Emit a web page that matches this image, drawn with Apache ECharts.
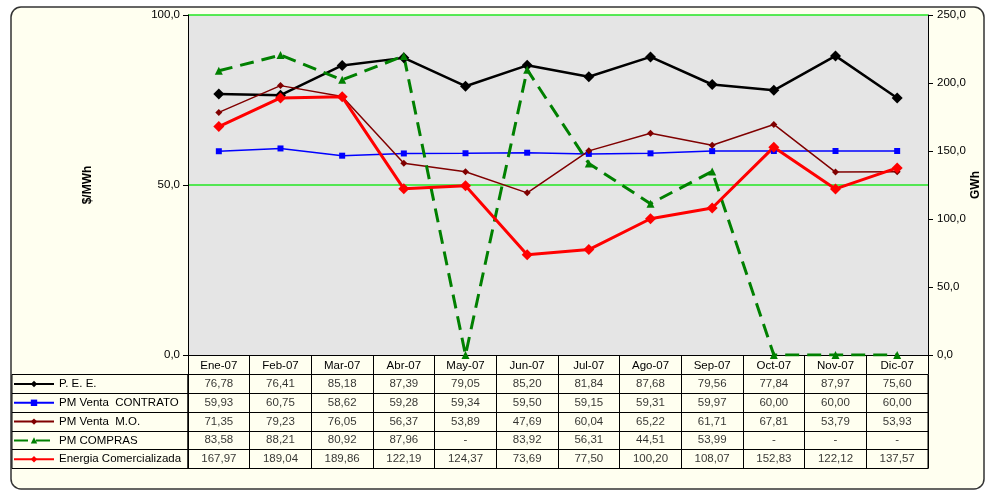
<!DOCTYPE html>
<html>
<head>
<meta charset="utf-8">
<script src="https://cdn.jsdelivr.net/npm/echarts@6/dist/echarts.min.js"></script>
<style>
  html, body { margin: 0; padding: 0; background: #ffffff; }
  #chart { width: 985px; height: 491px; }
</style>
</head>
<body>
<div id="chart"></div>
<script>
var months = ['Ene-07', 'Feb-07', 'Mar-07', 'Abr-07', 'May-07', 'Jun-07', 'Jul-07', 'Ago-07', 'Sep-07', 'Oct-07', 'Nov-07', 'Dic-07'];
var pee = [76.78, 76.41, 85.18, 87.39, 79.05, 85.20, 81.84, 87.68, 79.56, 77.84, 87.97, 75.60];
var ventaContrato = [59.93, 60.75, 58.62, 59.28, 59.34, 59.50, 59.15, 59.31, 59.97, 60.00, 60.00, 60.00];
var ventaMO = [71.35, 79.23, 76.05, 56.37, 53.89, 47.69, 60.04, 65.22, 61.71, 67.81, 53.79, 53.93];
var compras = [83.58, 88.21, 80.92, 87.96, 0, 83.92, 56.31, 44.51, 53.99, 0, 0, 0];
var energia = [167.97, 189.04, 189.86, 122.19, 124.37, 73.69, 77.50, 100.20, 108.07, 152.83, 122.12, 137.57];
var seriesNames = ['P. E. E.', 'PM Venta  CONTRATO', 'PM Venta  M.O.', 'PM COMPRAS', 'Energia Comercializada'];

var font = 'Liberation Sans, Arial, sans-serif';
var fmt2 = function (v) { return v === 0 ? '-' : v.toFixed(2).replace('.', ','); };
var fmt1 = function (v) { return v.toFixed(1).replace('.', ','); };

var tableTop = 374.5;
var rowH = 18.8;

var chart = echarts.init(document.getElementById('chart'));

var tableRows = [pee, ventaContrato, ventaMO, compras, energia];
var tableSeries = tableRows.map(function (row, r) {
  return {
    type: 'scatter',
    name: 'tabla' + r,
    xAxisIndex: 1,
    yAxisIndex: 2,
    symbolSize: 1,
    itemStyle: { color: 'rgba(0,0,0,0)' },
    silent: true,
    z: 5,
    label: {
      show: true,
      position: 'inside',
      fontSize: 11.5,
      fontFamily: font,
      color: '#000',
      formatter: function (p) { return fmt2(p.value[2]); }
    },
    data: row.map(function (v, i) { return [i, r, v]; })
  };
});

// one legend per table row so each sits in its own cell
var legends = seriesNames.map(function (n, r) {
  return {
    orient: 'vertical',
    left: 13,
    top: tableTop + r * rowH + 2,
    padding: 0,
    itemWidth: 40,
    itemHeight: 8,
    selectedMode: false,
    data: [n],
    textStyle: { fontSize: 11.5, fontFamily: font, color: '#000', lineHeight: 15 }
  };
});

chart.setOption({
  animation: false,
  backgroundColor: 'transparent',
  graphic: [{
    type: 'rect',
    z: -10,
    shape: { x: 11, y: 7, width: 973, height: 482, r: 10 },
    style: { fill: '#fffff0', stroke: '#333', lineWidth: 1.5 }
  }],
  legend: legends,
  grid: [
    { left: 188, right: 57, top: 15, bottom: 136, show: true, backgroundColor: '#e5e5e5', borderWidth: 0, outerBoundsMode: 'none' },
    { left: 188, right: 57, top: tableTop, height: rowH * 5, show: true, borderColor: '#000', borderWidth: 1, outerBoundsMode: 'none' },
    { left: 12, width: 176, top: tableTop, height: rowH * 5, show: true, borderColor: '#000', borderWidth: 1, outerBoundsMode: 'none' }
  ],
  xAxis: [
    {
      type: 'category', gridIndex: 0, data: months,
      axisLine: { lineStyle: { color: '#000', width: 1 } },
      axisTick: { show: true, length: 19.5, lineStyle: { color: '#000' } },
      axisLabel: { color: '#000', fontSize: 11.5, fontFamily: font, margin: 5 }
    },
    {
      type: 'category', gridIndex: 1, data: months,
      axisLine: { show: false }, axisTick: { show: false }, axisLabel: { show: false },
      splitLine: { show: true, lineStyle: { color: '#000', width: 1 } }
    },
    {
      type: 'value', gridIndex: 2, show: false
    }
  ],
  yAxis: [
    {
      type: 'value', gridIndex: 0, min: 0, max: 100, interval: 50,
      name: '$/MWh', nameLocation: 'middle', nameRotate: 90, nameGap: 94, nameMoveOverlap: false,
      nameTextStyle: { fontWeight: 'bold', fontSize: 12, fontFamily: font, color: '#000' },
      axisLine: { show: true, lineStyle: { color: '#000' } },
      axisTick: { show: true, length: 5, lineStyle: { color: '#000' } },
      axisLabel: { color: '#000', fontSize: 11.5, fontFamily: font, formatter: fmt1, margin: 8 },
      splitLine: { show: true, showMinLine: false, lineStyle: { color: '#22e622', width: 1.5 } }
    },
    {
      type: 'value', gridIndex: 0, position: 'right', min: 0, max: 250, interval: 50,
      name: 'GWh', nameLocation: 'middle', nameRotate: 90, nameGap: 42, nameMoveOverlap: false,
      nameTextStyle: { fontWeight: 'bold', fontSize: 12, fontFamily: font, color: '#000' },
      axisLine: { show: true, lineStyle: { color: '#000' } },
      axisTick: { show: true, length: 5, lineStyle: { color: '#000' } },
      axisLabel: { color: '#000', fontSize: 11.5, fontFamily: font, formatter: fmt1, margin: 9 },
      splitLine: { show: false }
    },
    {
      type: 'category', gridIndex: 1, inverse: true, data: [0, 1, 2, 3, 4],
      axisLine: { show: false }, axisTick: { show: false }, axisLabel: { show: false },
      splitLine: { show: true, lineStyle: { color: '#000', width: 1 } }
    },
    {
      type: 'category', gridIndex: 2, inverse: true, data: [0, 1, 2, 3, 4],
      axisLine: { show: false }, axisTick: { show: false }, axisLabel: { show: false },
      splitLine: { show: true, lineStyle: { color: '#000', width: 1 } }
    }
  ],
  series: [
    {
      name: seriesNames[0], type: 'line', data: pee,
      symbol: 'diamond', symbolSize: 11,
      itemStyle: { color: '#000' }, lineStyle: { color: '#000', width: 2.5 }
    },
    {
      name: seriesNames[1], type: 'line', data: ventaContrato,
      symbol: 'rect', symbolSize: 6,
      itemStyle: { color: '#0000ff' }, lineStyle: { color: '#0000ff', width: 1.5 }
    },
    {
      name: seriesNames[2], type: 'line', data: ventaMO,
      symbol: 'diamond', symbolSize: 7,
      itemStyle: { color: '#800000' }, lineStyle: { color: '#800000', width: 1.5 }
    },
    {
      name: seriesNames[3], type: 'line', data: compras,
      symbol: 'triangle', symbolSize: 8,
      itemStyle: { color: '#008000' }, lineStyle: { color: '#008000', width: 3, type: [14, 8] }
    },
    {
      name: seriesNames[4], type: 'line', data: energia, yAxisIndex: 1,
      symbol: 'diamond', symbolSize: 11,
      itemStyle: { color: '#ff0000' }, lineStyle: { color: '#ff0000', width: 3 }
    }
  ].concat(tableSeries)
});
</script>
</body>
</html>
